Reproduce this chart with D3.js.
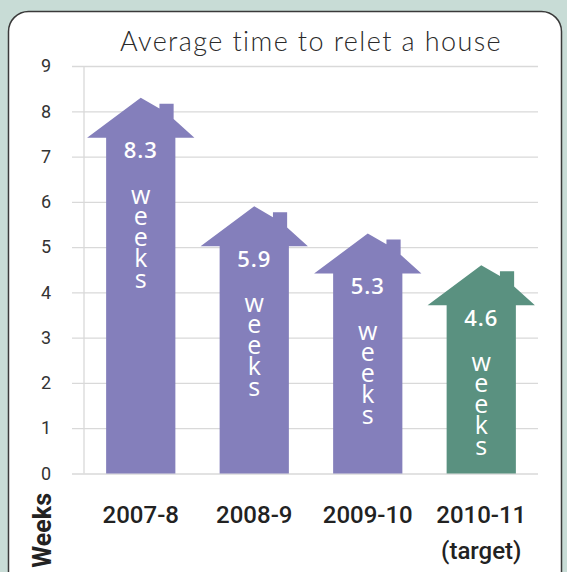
<!DOCTYPE html>
<html>
<head>
<meta charset="utf-8">
<script src="https://cdn.jsdelivr.net/npm/d3@7"></script>
<style>
  body { margin: 0; background: #c8dcd6; }
  svg { display: block; }
</style>
</head>
<body>
<div id="chart"></div>
<script>
// data
var categories = ["2007-8", "2008-9", "2009-10", "2010-11"];
var categoryNotes = ["", "", "", "(target)"];
var weeks = [8.3, 5.9, 5.3, 4.6];
var isTarget = [false, false, false, true];
var yTicks = [0, 1, 2, 3, 4, 5, 6, 7, 8, 9];

var data = categories.map(function (c, i) {
    return { cat: c, note: categoryNotes[i], value: weeks[i], target: isTarget[i] };
});

var W = 567, H = 572;

var svg = d3.select("#chart")
    .append("svg")
    .attr("width", W)
    .attr("height", H);

// white panel with rounded corners
svg.append("rect")
    .attr("x", 8.5)
    .attr("y", 11.5)
    .attr("width", 553)
    .attr("height", 600)
    .attr("rx", 20)
    .attr("fill", "#ffffff")
    .attr("stroke", "#3a3a3a")
    .attr("stroke-width", 1.5);

// title
svg.append("text")
    .attr("x", 311)
    .attr("y", 51)
    .attr("text-anchor", "middle")
    .attr("font-family", "Lato, 'Open Sans', sans-serif")
    .attr("font-weight", 300)
    .attr("font-size", 27)
    .attr("letter-spacing", 1.4)
    .attr("fill", "#2a2a2a")
    .text("Average time to relet a house");

var x = d3.scaleBand()
    .domain(categories)
    .range([84, 538])
    .paddingInner(0.39)
    .paddingOuter(0.195);

var y = d3.scaleLinear()
    .domain([0, 9])
    .range([473.5, 66]);

// gridlines + tick labels
var yAxis = svg.append("g")
    .attr("transform", "translate(538,0)")
    .call(d3.axisLeft(y).tickValues(yTicks).tickSize(466).tickPadding(21).tickFormat(d3.format("d")));
yAxis.select(".domain").remove();
yAxis.selectAll(".tick line").attr("stroke", "#d9d9d9").attr("stroke-width", 1.3);
yAxis.selectAll(".tick text")
    .attr("font-family", "Roboto, sans-serif")
    .attr("font-size", 18)
    .attr("fill", "#333");

// vertical axis line
svg.append("line")
    .attr("x1", 84).attr("x2", 84)
    .attr("y1", y(0)).attr("y2", y(9))
    .attr("stroke", "#d9d9d9")
    .attr("stroke-width", 1.3);

// house shaped bars
function housePath(d) {
    var bw = x.bandwidth();
    var x0 = x(d.cat), cx = x0 + bw / 2;
    var peak = y(d.value), base = y(0);
    var roofH = 40, roofHalf = bw * 0.775;
    var p = d3.path();
    p.moveTo(x0, base);
    p.lineTo(x0, peak + roofH);
    p.lineTo(cx - roofHalf, peak + roofH);
    p.lineTo(cx, peak);
    p.lineTo(cx + bw * 0.27, peak + roofH * 0.27);
    p.lineTo(cx + bw * 0.27, peak + 6);
    p.lineTo(cx + bw * 0.475, peak + 6);
    p.lineTo(cx + bw * 0.475, peak + roofH * 0.53);
    p.lineTo(cx + roofHalf, peak + roofH);
    p.lineTo(x0 + bw, peak + roofH);
    p.lineTo(x0 + bw, base);
    p.closePath();
    return p.toString();
}

var bars = svg.selectAll(".house")
    .data(data)
    .enter()
    .append("g")
    .attr("class", "house");

bars.append("path")
    .attr("d", housePath)
    .attr("fill", function (d) { return d.target ? "#5a9180" : "#847fbb"; });

// value labels inside the house
bars.append("text")
    .attr("x", function (d) { return x(d.cat) + x.bandwidth() / 2; })
    .attr("y", function (d) { return y(d.value) + 40 + 13; })
    .attr("dy", "0.35em")
    .attr("text-anchor", "middle")
    .attr("font-family", "'Open Sans', sans-serif")
    .attr("font-weight", 600)
    .attr("font-size", 22)
    .attr("letter-spacing", 1)
    .attr("fill", "#fff")
    .text(function (d) { return d.value; });

// "weeks" stacked letters
bars.each(function (d) {
    var g = d3.select(this);
    var cx = x(d.cat) + x.bandwidth() / 2;
    var top = y(d.value) + 40 + 13 + 45;
    "weeks".split("").forEach(function (ch, i) {
        g.append("text")
            .attr("x", cx)
            .attr("y", top + i * 21)
            .attr("dy", "0.32em")
            .attr("text-anchor", "middle")
            .attr("font-family", "'Open Sans', sans-serif")
            .attr("font-size", 25)
            .attr("fill", "#fff")
            .text(ch);
    });
});

// category labels
svg.selectAll(".cat")
    .data(data)
    .enter()
    .append("text")
    .attr("class", "cat")
    .attr("x", function (d) { return x(d.cat) + x.bandwidth() / 2; })
    .attr("y", 523)
    .attr("text-anchor", "middle")
    .attr("font-family", "Roboto, sans-serif")
    .attr("font-weight", 500)
    .attr("font-size", 24)
    .attr("fill", "#222")
    .text(function (d) { return d.cat; });

svg.selectAll(".note")
    .data(data.filter(function (d) { return d.note; }))
    .enter()
    .append("text")
    .attr("class", "note")
    .attr("x", function (d) { return x(d.cat) + x.bandwidth() / 2; })
    .attr("y", 559)
    .attr("text-anchor", "middle")
    .attr("font-family", "Roboto, sans-serif")
    .attr("font-weight", 500)
    .attr("font-size", 24)
    .attr("fill", "#222")
    .text(function (d) { return d.note; });

// axis title
svg.append("text")
    .attr("transform", "translate(51,493) rotate(-90)")
    .attr("text-anchor", "end")
    .attr("font-family", "Roboto, sans-serif")
    .attr("font-weight", 700)
    .attr("font-size", 25)
    .attr("fill", "#222")
    .text("Weeks");
</script>
</body>
</html>
